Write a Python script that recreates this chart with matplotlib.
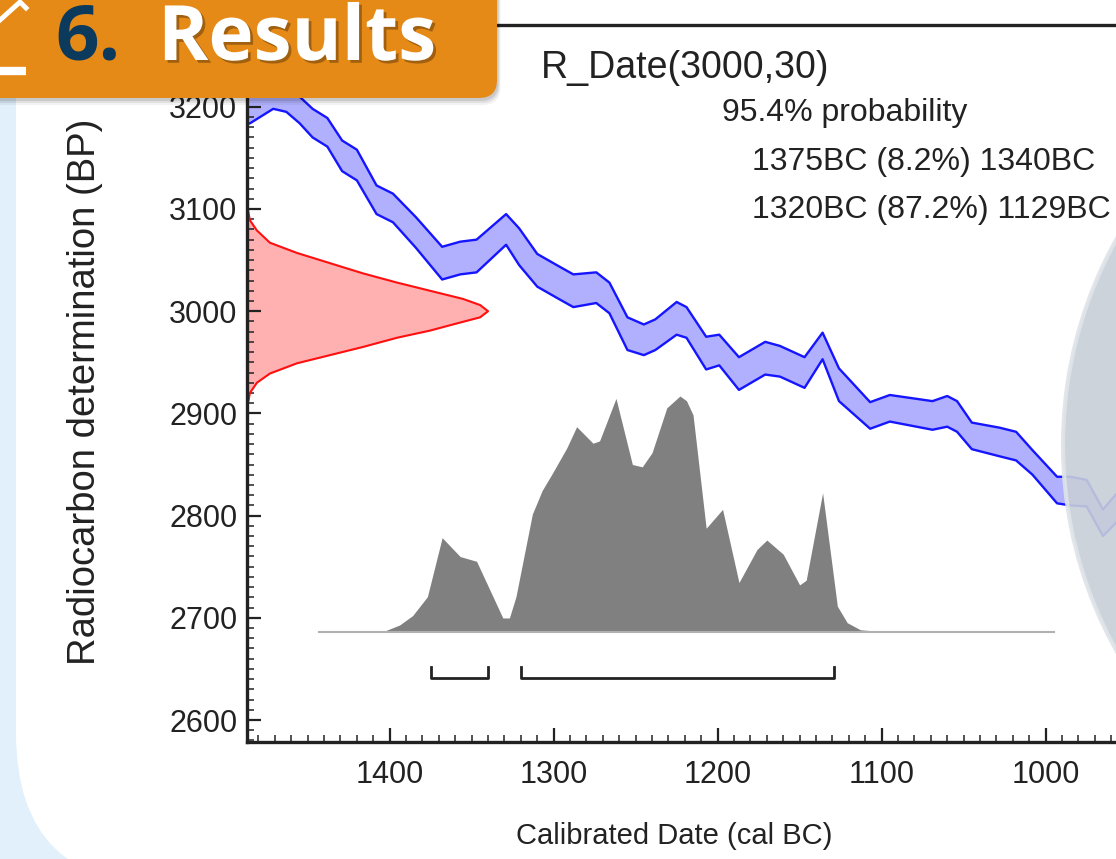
import matplotlib
matplotlib.use('Agg')
import matplotlib.pyplot as plt
import matplotlib.patheffects as pe
from matplotlib.patches import FancyBboxPatch, Circle
from matplotlib.ticker import MultipleLocator

plt.rcParams['font.family'] = ['Liberation Sans', 'DejaVu Sans']

# calibration curve (cal BC, BP mean, 1 sigma)
cal_year = [1490, 1485, 1471, 1463, 1455, 1447, 1438, 1429, 1420, 1408, 1398, 1384, 1368,
            1357, 1347, 1329, 1321, 1310, 1298, 1288, 1274, 1266, 1255, 1245, 1238, 1225,
            1219, 1207, 1199, 1187, 1171, 1162, 1147, 1136, 1126, 1107, 1095, 1069, 1060,
            1054, 1045, 1028, 1018, 1008, 993, 985, 975, 965, 957, 945]
cal_bp = [3196, 3199, 3212, 3209, 3197, 3184, 3175, 3152, 3143, 3109, 3101, 3077, 3047,
          3052, 3054, 3080, 3063, 3040, 3029, 3020, 3023, 3013, 2978, 2972, 2977, 2993,
          2989, 2959, 2962, 2939, 2954, 2951, 2940, 2966, 2928, 2898, 2905, 2898, 2902,
          2897, 2878, 2872, 2868, 2852, 2825, 2824, 2822, 2793, 2807, 2815]
cal_err = [15, 15, 14, 14, 13, 14, 14, 15, 15, 14, 14, 15, 16,
           16, 16, 15, 18, 16, 16, 16, 15, 15, 16, 15, 15, 16,
           15, 16, 15, 16, 16, 15, 15, 13, 16, 13, 13, 14, 15,
           15, 13, 14, 14, 12, 13, 14, 13, 13, 14, 14]

# radiocarbon date 3000 +/- 30 (relative probability)
r_bp = [3104, 3099, 3089, 3079, 3067, 3057, 3047, 3037, 3028, 3020, 3012, 3006, 3000,
        2994, 2988, 2981, 2974, 2965, 2957, 2949, 2939, 2930, 2920, 2910, 2895]
r_p = [0.0, 0.004, 0.012, 0.041, 0.095, 0.207, 0.344, 0.481, 0.622, 0.759, 0.896, 0.967, 1.0,
       0.967, 0.87, 0.759, 0.622, 0.481, 0.344, 0.207, 0.095, 0.041, 0.012, 0.004, 0.0]

# calibrated distribution (relative probability)
post_year = [1443, 1412, 1403, 1394, 1386, 1377, 1368, 1357, 1347, 1339, 1331, 1327, 1323,
             1313, 1307, 1301, 1292, 1286, 1276, 1272, 1262, 1252, 1246, 1240, 1231, 1223,
             1219, 1215, 1207, 1197, 1187, 1176, 1170, 1160, 1150, 1146, 1136, 1127, 1121,
             1113, 1101, 1077, 1049, 1043, 995]
post_p = [0, 0, 0.005, 0.03, 0.07, 0.15, 0.40, 0.32, 0.30, 0.18, 0.06, 0.06, 0.15,
          0.50, 0.60, 0.67, 0.78, 0.87, 0.80, 0.81, 0.99, 0.71, 0.70, 0.76, 0.95, 1.0,
          0.98, 0.92, 0.44, 0.52, 0.21, 0.35, 0.39, 0.33, 0.20, 0.22, 0.59, 0.11, 0.04,
          0.01, 0.003, 0.004, 0.003, 0, 0]

ranges = [(1375, 1340), (1320, 1129)]
text_lines = ['95.4% probability', '1375BC (8.2%) 1340BC', '1320BC (87.2%) 1129BC']

W, H = 1116, 859
fig = plt.figure(figsize=(W / 100, H / 100), dpi=100, facecolor='#e1f0fb')

# slide background
bg = fig.add_axes([0, 0, 1, 1], zorder=0)
bg.set_xlim(0, W)
bg.set_ylim(H, 0)
bg.axis('off')
bg.add_patch(FancyBboxPatch((16, -300), 1400, 1186, boxstyle='round,pad=0,rounding_size=153',
                            fc='white', ec='none'))

# oxcal plot
x0, x1 = 1487, 940
y0, y1 = 2578.5, 3280
ax = fig.add_axes([247 / W, (H - 742) / H, (1144 - 247) / W, (742 - 25) / H], zorder=1)
ax.patch.set_alpha(0)
ax.set_xlim(x0, x1)
ax.set_ylim(y0, y1)

lo = [m - e for m, e in zip(cal_bp, cal_err)]
hi = [m + e for m, e in zip(cal_bp, cal_err)]
ax.fill_between(cal_year, lo, hi, color='#b0b0ff', lw=0)
ax.plot(cal_year, lo, color='#1515ff', lw=1.7, solid_joinstyle='round')
ax.plot(cal_year, hi, color='#1515ff', lw=1.7, solid_joinstyle='round')

r_x = [x0 - 147 * p for p in r_p]
ax.fill_betweenx(r_bp, x0, r_x, color='#ffb0b0', lw=0)
ax.plot(r_x, r_bp, color='#ff1010', lw=1.5)

base = 2686
post_top = [base + 231 * p for p in post_p]
ax.fill_between(post_year, base, post_top, color='#808080', lw=0)
ax.plot([post_year[0], post_year[-1]], [base, base], color='#b0b0b0', lw=1.5)

for a, b in ranges:
    ax.plot([a, a, b, b], [2652, 2641, 2641, 2652], color='#222222', lw=2)

ax.xaxis.set_major_locator(MultipleLocator(100))
ax.xaxis.set_minor_locator(MultipleLocator(10))
ax.yaxis.set_major_locator(MultipleLocator(100))
ax.yaxis.set_minor_locator(MultipleLocator(10))
ax.tick_params(which='both', direction='in', top=False, right=False, colors='#222222')
ax.tick_params(which='major', length=10, width=1.6, labelsize=22)
ax.tick_params(which='minor', length=5, width=1.1)
ax.tick_params(axis='x', pad=13)
ax.tick_params(axis='y', pad=7)
for s in ax.spines.values():
    s.set_linewidth(2.4)
    s.set_color('#222222')

fig.text(674 / W, 1 - 836 / H, 'Calibrated Date (cal BC)', fontsize=21, color='#222222',
         ha='center', va='center')
fig.text(85 / W, 1 - 392 / H, 'Radiocarbon determination (BP)', fontsize=27.5,
         color='#222222', rotation=90, ha='center', va='center')

# overlay: texts, circle, banner
ov = fig.add_axes([0, 0, 1, 1], zorder=3)
ov.set_xlim(0, W)
ov.set_ylim(H, 0)
ov.axis('off')
ov.patch.set_alpha(0)

ov.text(541, 68, 'R_Date(3000,30)', fontsize=27, color='#222222', va='center', ha='left')
ov.text(722, 113, text_lines[0], fontsize=23, color='#222222', va='center', ha='left')
ov.text(752, 162, text_lines[1], fontsize=23, color='#222222', va='center', ha='left')
ov.text(752, 210, text_lines[2], fontsize=23, color='#222222', va='center', ha='left')

ov.add_patch(Circle((1486, 445), 423, fc='#c8cfd7', ec='#dfe4e9', lw=3, alpha=0.9, zorder=4))

for off, al in [(7, 0.05), (5, 0.07), (3, 0.1)]:
    ov.add_patch(FancyBboxPatch((-100 + off / 2, -100 + off), 597, 198,
                                boxstyle='round,pad=0,rounding_size=18',
                                fc='black', ec='none', alpha=al, zorder=5))
ov.add_patch(FancyBboxPatch((-100, -100), 597, 198, boxstyle='round,pad=0,rounding_size=18',
                            fc='#e68a17', ec='none', zorder=6))
ov.text(55, 60, '6.', color='#0c3a5c', fontsize=55, fontweight='bold', family='Open Sans',
        va='baseline', ha='left', zorder=7)
ov.text(158, 60, 'Results', color='white', fontsize=55, fontweight='bold', family='Open Sans',
        va='baseline', ha='left', zorder=7,
        path_effects=[pe.withSimplePatchShadow(offset=(2, -2), shadow_rgbFace='black', alpha=0.3)])
ov.plot([0, 20, 26], [20, 2, 8], color='white', lw=3.5, zorder=7)
ov.plot([0, 26], [71, 71], color='white', lw=6, solid_capstyle='butt', zorder=7)

fig.savefig('out.png', dpi=100, facecolor=fig.get_facecolor())
